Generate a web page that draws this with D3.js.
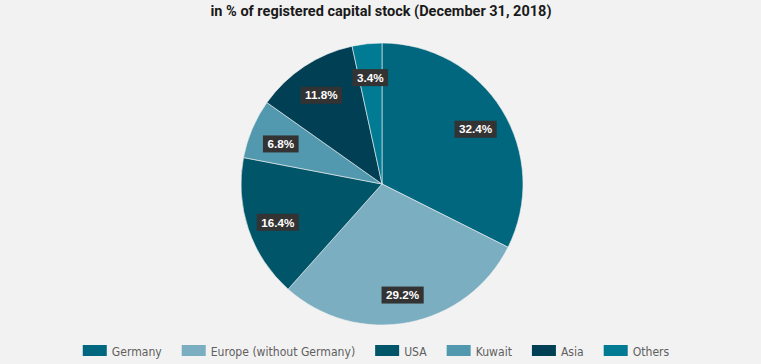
<!DOCTYPE html>
<html><head><meta charset="utf-8">
<script src="https://cdn.jsdelivr.net/npm/d3@7/dist/d3.min.js"></script>
<style>
html,body{margin:0;padding:0;background:#f2f2f2;}
svg{display:block;}
</style></head>
<body>
<svg id="c" width="761" height="364"></svg>
<script>
const categories = ["Germany", "Europe (without Germany)", "USA", "Kuwait", "Asia", "Others"];
const values = [32.4, 29.2, 16.4, 6.8, 11.8, 3.4];
const colors = ["#00677e", "#7aaec0", "#005568", "#5298ae", "#003f54", "#007b93"];
const title = "in % of registered capital stock (December 31, 2018)";

const svg = d3.select("#c");
const W = 761, H = 364;
const cx = 382, cy = 184, R = 141, labelR = 110;

svg.append("rect").attr("width", W).attr("height", H).attr("fill", "#f2f2f2");

svg.append("text").attr("x", 381).attr("y", 16).attr("text-anchor", "middle")
  .attr("font-family", "Roboto, 'Liberation Sans', sans-serif").attr("font-weight", 700)
  .attr("font-size", "14.5px").attr("fill", "#1a1a1a").text(title);

const data = categories.map((c, i) => ({cat: c, v: values[i], col: colors[i]}));
const pie = d3.pie().sort(null).value(d => d.v);
const arc = d3.arc().innerRadius(0).outerRadius(R);
const larc = d3.arc().innerRadius(labelR).outerRadius(labelR);
const arcs = pie(data);

const g = svg.append("g").attr("transform", `translate(${cx},${cy})`);
g.selectAll("path").data(arcs).join("path")
  .attr("d", arc).attr("fill", d => d.data.col)
  .attr("stroke", "#f2f2f2").attr("stroke-width", 0.6);

const lg = g.selectAll("g.lab").data(arcs).join("g").attr("class", "lab")
  .attr("transform", d => { const c = larc.centroid(d); return `translate(${c[0]},${c[1] + 3})`; });
lg.each(function(d) {
  const s = d3.select(this);
  const t = s.append("text").attr("text-anchor", "middle").attr("dy", "0.36em")
    .attr("font-family", "'Liberation Sans', Arial, sans-serif").attr("font-weight", 700)
    .attr("font-size", "11.7px").attr("fill", "#ffffff")
    .text(d3.format(".1f")(d.data.v) + "%");
  const w = t.node().getComputedTextLength();
  s.insert("rect", "text").attr("x", -w / 2 - 4.5).attr("y", -8.5).attr("width", w + 9).attr("height", 17)
    .attr("fill", "#333333");
});

// legend
const leg = svg.append("g");
let x = 0;
const sx = 0.93;
data.forEach(d => {
  const it = leg.append("g");
  it.append("rect").attr("x", 0).attr("y", 345).attr("width", 24).attr("height", 11).attr("fill", d.col);
  const t = it.append("text").attr("transform", `translate(29,355.5) scale(${sx},1)`)
    .attr("font-family", "'DejaVu Sans Condensed', 'Roboto Condensed', Roboto, sans-serif")
    .attr("font-stretch", "condensed")
    .attr("font-size", "13px").attr("fill", "#5f5f5f").text(d.cat);
  const w = t.node().getComputedTextLength() * sx;
  it.attr("transform", `translate(${x},0)`);
  x += 29 + w + 20;
});
const total = x - 20;
leg.attr("transform", `translate(${(W - total) / 2 - 4.5},0)`);
</script>
</body></html>
